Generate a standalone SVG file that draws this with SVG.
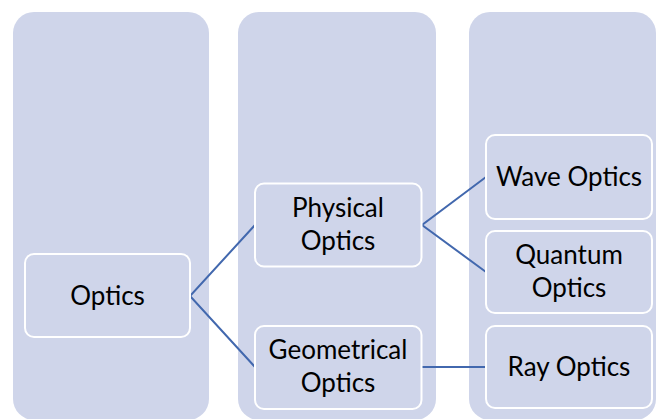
<svg xmlns="http://www.w3.org/2000/svg" width="657" height="419" viewBox="0 0 657 419">
  <style>
    .lane { fill: #CFD5EA; }
    .box { fill: #CFD5EA; stroke: #FFFFFF; stroke-width: 2; }
    .label { font-family: Lato, "Liberation Sans", sans-serif; font-size: 26px; fill: #000000; text-anchor: middle; }
    .link { fill: none; stroke: #4268AE; stroke-width: 2; }
  </style>
  <rect width="657" height="419" fill="#FFFFFF"/>
  <g id="lanes">
    <rect class="lane" x="13" y="12" width="196" height="408" rx="21"/>
    <rect class="lane" x="238" y="12" width="198" height="408" rx="21"/>
    <rect class="lane" x="469" y="12" width="187" height="408" rx="21"/>
  </g>
  <g id="connectors">
    <polyline class="link" points="255,225 190,296 255,367"/>
    <polyline class="link" points="486,177 422,225 486,272"/>
    <line class="link" x1="422" y1="367" x2="486" y2="367"/>
  </g>
  <g id="optics">
    <rect class="box" x="25" y="254" width="165" height="83" rx="9"/>
    <text class="label" x="107.5" y="305">Optics</text>
  </g>
  <g id="physical-optics">
    <rect class="box" x="255" y="183.5" width="166.5" height="83" rx="9"/>
    <text class="label" x="338" y="217">Physical</text>
    <text class="label" x="338" y="250">Optics</text>
  </g>
  <g id="geometrical-optics">
    <rect class="box" x="255" y="326" width="166.5" height="83" rx="9"/>
    <text class="label" x="338" y="359">Geometrical</text>
    <text class="label" x="338" y="392">Optics</text>
  </g>
  <g id="wave-optics">
    <rect class="box" x="486" y="135" width="166" height="84" rx="9"/>
    <text class="label" x="569" y="186">Wave Optics</text>
  </g>
  <g id="quantum-optics">
    <rect class="box" x="486" y="231" width="166" height="82" rx="9"/>
    <text class="label" x="569" y="264">Quantum</text>
    <text class="label" x="569" y="297">Optics</text>
  </g>
  <g id="ray-optics">
    <rect class="box" x="486" y="326" width="166" height="82" rx="9"/>
    <text class="label" x="569" y="376">Ray Optics</text>
  </g>
</svg>
